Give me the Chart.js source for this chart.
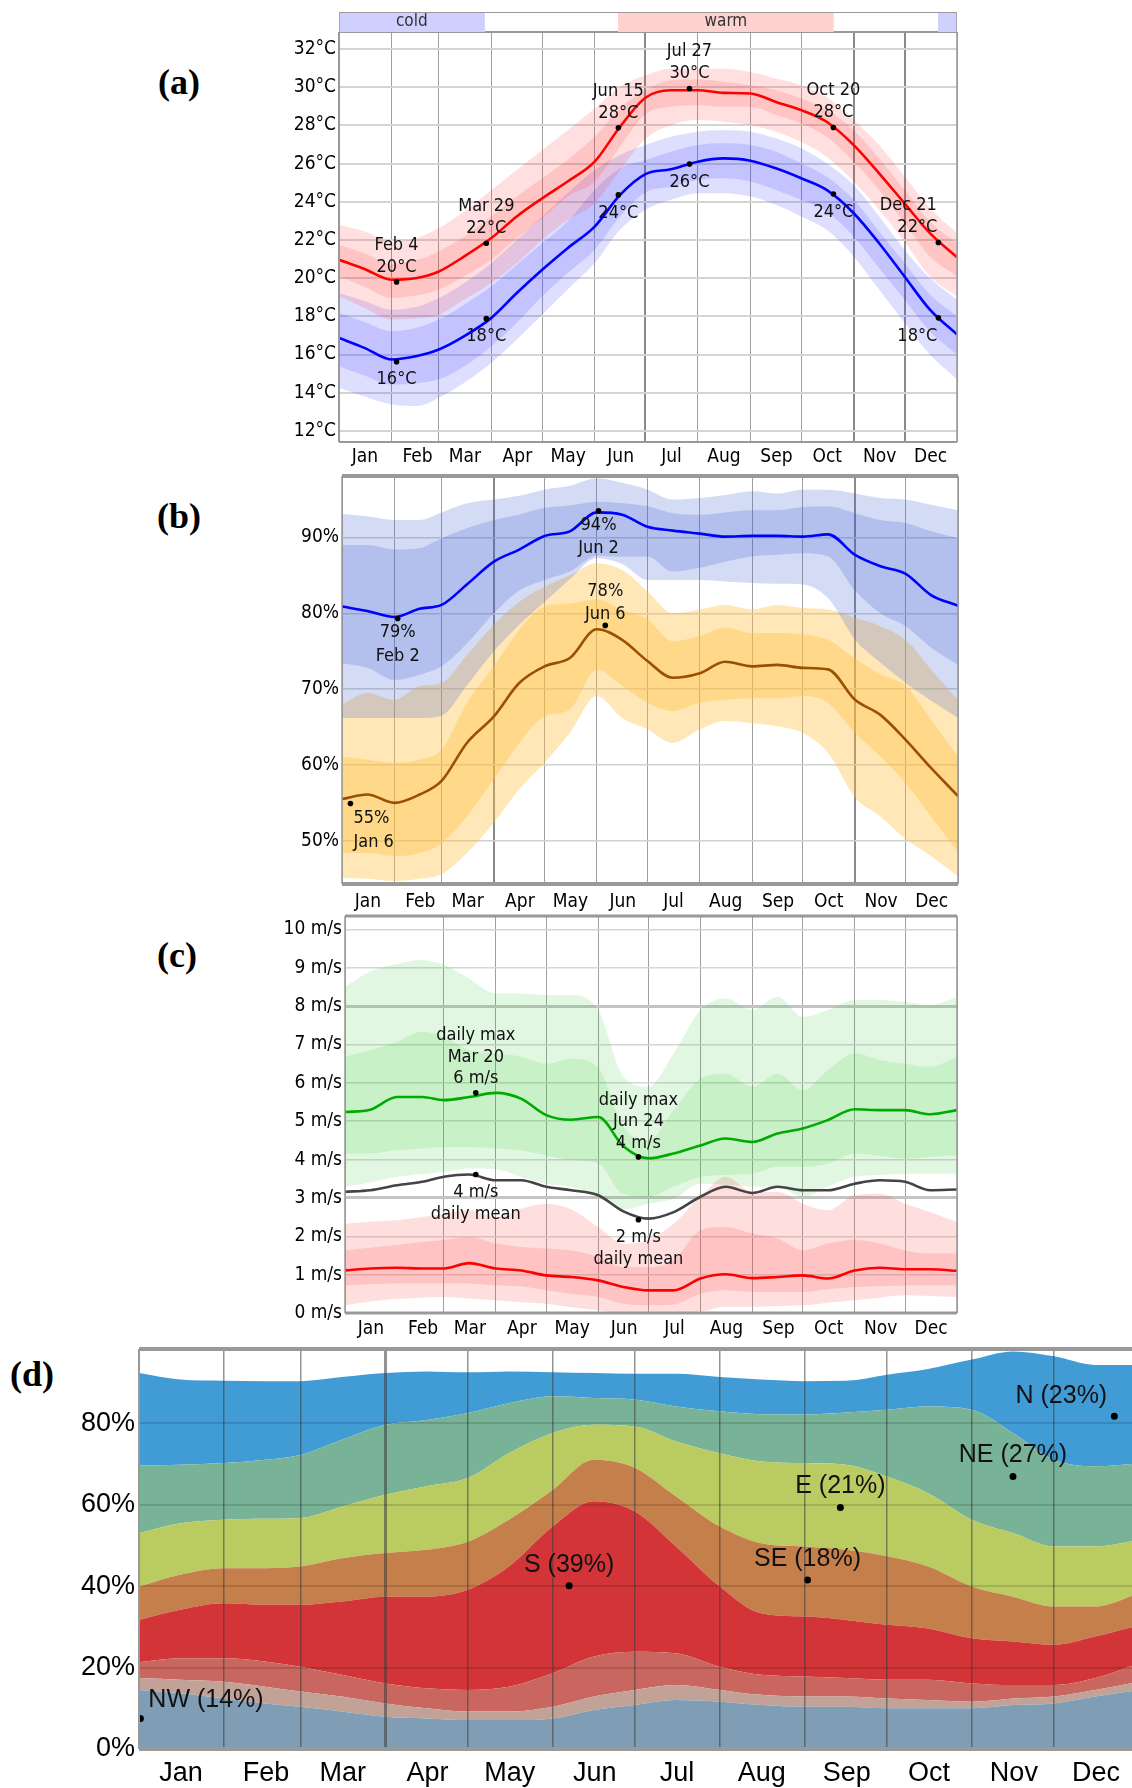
<!DOCTYPE html>
<html lang="en">
<head>
<meta charset="UTF-8">
<title>Temperature, humidity and wind through the year</title>
<style>
  html, body { margin: 0; padding: 0; background: #fff; overflow: hidden; }
  body { width: 1132px; height: 1788px; position: relative; }
  canvas { position: absolute; }
  .tag {
    position: absolute;
    font: bold 36px 'Liberation Serif', 'Times New Roman', serif;
    line-height: 1;
    transform: translate(-50%, -50%);
  }
</style>
<script src="https://cdn.jsdelivr.net/npm/chart.js"></script>
</head>
<body>

<div class="tag" style="left:179px;top:82px">(a)</div>
<div class="tag" style="left:179px;top:516px">(b)</div>
<div class="tag" style="left:177px;top:955px">(c)</div>
<div class="tag" style="left:32px;top:1374px">(d)</div>

<canvas id="temp" width="708" height="462" style="left:259px;top:10px"></canvas>
<canvas id="season" width="618" height="20" style="left:339px;top:12px"></canvas>
<canvas id="humid" width="709" height="460" style="left:259px;top:454px"></canvas>
<canvas id="wind" width="708" height="449" style="left:259px;top:894px"></canvas>
<canvas id="dir" width="1149" height="462" style="left:0px;top:1327px"></canvas>

<script>
// ---- shared x axis (day of year) ----
const DAYS = [0, 15, 31, 46, 59, 74, 90, 105, 120, 135, 151, 166, 181, 196, 212, 227, 243, 258, 273, 288, 304, 319, 334, 349, 365];
const MONTHS = ['Jan', 'Feb', 'Mar', 'Apr', 'May', 'Jun', 'Jul', 'Aug', 'Sep', 'Oct', 'Nov', 'Dec'];
const MONTH_START = [0, 31, 59, 90, 120, 151, 181, 212, 243, 273, 304, 334, 365];

// ---- (a) temperature, deg C ----
const SEASON_NAME = ['cold', 'warm', 'cold'];
const SEASON_LABEL = ['cold', 'warm', ''];
const SEASON_START = [0, 165, 354];
const SEASON_END = [86, 292, 365];

const TEMP_TICKS = [12, 14, 16, 18, 20, 22, 24, 26, 28, 30, 32];
const HIGH = [20.96, 20.48, 19.92, 20.01, 20.35, 21.14, 22.10, 23.23, 24.18, 25.06, 26.10, 27.93, 29.45, 29.84, 29.84, 29.70, 29.67, 29.23, 28.80, 28.19, 26.97, 25.49, 23.92, 22.36, 21.09];
const HIGH_P90 = [22.79, 22.44, 21.90, 22.10, 22.62, 23.49, 24.62, 25.66, 26.71, 27.75, 28.88, 30.02, 30.62, 30.97, 30.97, 30.97, 30.80, 30.45, 30.10, 29.49, 28.28, 26.97, 25.32, 23.66, 22.36];
const HIGH_P75 = [21.75, 21.30, 20.75, 20.95, 21.40, 22.18, 23.23, 24.27, 25.23, 26.19, 27.40, 28.88, 29.84, 30.36, 30.40, 30.28, 30.10, 29.84, 29.41, 28.80, 27.75, 26.27, 24.62, 22.97, 21.83];
const HIGH_P25 = [20.10, 19.55, 18.96, 19.10, 19.40, 20.10, 20.96, 22.10, 23.14, 24.27, 25.06, 26.88, 28.58, 28.97, 29.06, 28.97, 28.97, 28.54, 28.10, 27.40, 26.10, 24.62, 22.88, 21.14, 20.10];
const HIGH_P10 = [19.05, 18.45, 17.83, 17.90, 18.09, 18.88, 19.75, 20.79, 22.01, 23.05, 23.92, 25.66, 27.30, 28.01, 28.28, 28.19, 28.01, 27.67, 27.14, 26.36, 25.06, 23.58, 21.92, 20.09, 19.05];
const LOW = [16.87, 16.35, 15.74, 15.92, 16.26, 16.96, 17.92, 19.22, 20.44, 21.57, 22.70, 24.36, 25.45, 25.70, 26.10, 26.27, 26.15, 25.75, 25.23, 24.62, 23.40, 21.83, 20.09, 18.35, 17.05];
const LOW_P90 = [19.22, 18.80, 18.35, 18.50, 18.96, 19.75, 20.79, 22.01, 23.23, 24.45, 25.66, 26.45, 26.97, 27.40, 27.67, 27.75, 27.67, 27.32, 26.80, 26.01, 24.88, 23.23, 21.49, 20.01, 18.88];
const LOW_P75 = [18.18, 17.70, 17.22, 17.40, 17.83, 18.61, 19.57, 20.70, 21.83, 22.97, 24.62, 25.75, 26.19, 26.62, 26.97, 27.06, 26.97, 26.62, 26.01, 25.32, 24.10, 22.44, 20.79, 19.14, 18.01];
const LOW_P25 = [15.39, 14.90, 14.43, 14.50, 14.70, 15.39, 16.44, 17.66, 19.05, 20.27, 21.49, 23.23, 24.50, 24.79, 25.14, 25.23, 25.06, 24.62, 24.10, 23.49, 22.18, 20.53, 18.88, 17.22, 16.00];
const LOW_P10 = [14.26, 13.80, 13.39, 13.31, 13.74, 14.52, 15.57, 16.79, 18.09, 19.40, 20.79, 22.53, 23.58, 24.10, 24.45, 24.45, 24.27, 23.84, 23.23, 22.53, 21.14, 19.40, 17.66, 16.00, 14.70];

const TEMP_MARK_DAY = [34, 87, 165, 207, 292, 354];
const TEMP_MARK_DATE = ['Feb 4', 'Mar 29', 'Jun 15', 'Jul 27', 'Oct 20', 'Dec 21'];
const HIGH_MARK = [19.80, 21.83, 27.87, 29.93, 27.89, 21.87];
const HIGH_MARK_TEXT = ['20°C', '22°C', '28°C', '30°C', '28°C', '22°C'];
const LOW_MARK = [15.62, 17.88, 24.36, 25.98, 24.41, 17.92];
const LOW_MARK_TEXT = ['16°C', '18°C', '24°C', '26°C', '24°C', '18°C'];

// ---- (b) relative humidity, % ----
const HUM_TICKS = [50, 60, 70, 80, 90];
const HUM_HI = [80.9, 80.3, 79.5, 80.6, 81.1, 83.8, 86.8, 88.4, 90.2, 90.8, 93.3, 93.0, 91.4, 90.9, 90.5, 90.1, 90.2, 90.2, 90.1, 90.4, 87.7, 86.2, 85.2, 82.4, 81.0];
const HUM_HI_P90 = [93.1, 92.8, 92.3, 92.3, 93.3, 94.5, 95.0, 95.5, 96.3, 96.8, 97.8, 97.2, 96.3, 95.0, 95.2, 95.6, 96.1, 95.8, 96.3, 96.3, 95.8, 95.2, 95.0, 94.3, 93.6];
const HUM_HI_P75 = [89.0, 89.0, 88.4, 88.6, 89.9, 91.2, 92.3, 93.0, 93.9, 94.2, 94.7, 94.5, 94.1, 93.2, 93.0, 93.3, 93.6, 93.6, 94.0, 94.1, 93.2, 92.3, 91.9, 90.8, 89.9];
const HUM_HI_P25 = [73.4, 72.8, 71.2, 71.9, 73.0, 76.0, 80.0, 83.0, 84.4, 85.5, 87.6, 87.5, 87.5, 85.5, 86.0, 86.8, 87.5, 87.7, 87.9, 87.5, 83.0, 80.0, 78.3, 75.5, 73.2];
const HUM_HI_P10 = [66.2, 66.2, 66.2, 66.2, 66.5, 70.5, 75.0, 78.5, 81.5, 84.5, 87.3, 86.5, 84.4, 84.4, 84.4, 84.2, 84.0, 83.9, 83.8, 82.0, 76.5, 73.5, 70.8, 68.5, 66.2];
const HUM_LO = [55.5, 56.1, 55.0, 56.1, 57.9, 62.9, 66.4, 70.8, 73.0, 74.1, 77.9, 76.5, 73.7, 71.5, 72.1, 73.6, 73.0, 73.2, 72.8, 72.6, 68.6, 66.6, 63.3, 59.6, 55.9];
const HUM_LO_P90 = [68.0, 69.5, 68.6, 70.4, 70.8, 74.5, 78.5, 81.5, 83.5, 85.0, 86.6, 85.7, 82.9, 80.0, 80.5, 81.1, 80.5, 81.1, 80.7, 80.5, 79.4, 78.3, 76.5, 72.6, 68.6];
const HUM_LO_P75 = [61.1, 60.7, 60.3, 60.7, 62.0, 68.2, 73.0, 77.8, 80.9, 81.3, 81.8, 80.5, 79.2, 76.3, 77.0, 78.1, 77.4, 77.4, 77.2, 76.5, 74.0, 72.0, 70.4, 66.0, 61.1];
const HUM_LO_P25 = [48.4, 48.4, 48.0, 48.4, 49.7, 53.2, 58.1, 62.9, 66.4, 67.3, 72.6, 70.4, 68.2, 67.1, 68.2, 68.6, 68.8, 68.8, 69.1, 68.2, 64.2, 61.1, 57.6, 53.2, 48.6];
const HUM_LO_P10 = [45.1, 45.0, 44.7, 45.0, 45.6, 48.4, 52.4, 56.8, 60.3, 64.2, 69.1, 66.2, 64.7, 62.9, 64.7, 65.8, 65.5, 65.1, 64.2, 61.6, 55.7, 53.2, 50.2, 48.0, 45.3];

const HUM_HI_MARK_DAY = [33, 152];
const HUM_HI_MARK = [79.3, 93.5];
const HUM_HI_MARK_TEXT = ['79%', '94%'];
const HUM_HI_MARK_DATE = ['Feb 2', 'Jun 2'];
const HUM_LO_MARK_DAY = [5, 156];
const HUM_LO_MARK = [54.9, 78.4];
const HUM_LO_MARK_TEXT = ['55%', '78%'];
const HUM_LO_MARK_DATE = ['Jan 6', 'Jun 6'];

// ---- (c) wind speed, m/s ----
const WIND_TICKS = [0, 1, 2, 3, 4, 5, 6, 7, 8, 9, 10];
const WMAX = [5.24, 5.30, 5.63, 5.63, 5.55, 5.63, 5.74, 5.59, 5.16, 5.04, 5.11, 4.35, 4.03, 4.16, 4.37, 4.55, 4.46, 4.68, 4.81, 5.03, 5.31, 5.29, 5.29, 5.18, 5.29];
const WMAX_P90 = [8.50, 8.90, 9.10, 9.20, 9.07, 8.72, 8.33, 8.33, 8.29, 8.29, 7.90, 6.16, 5.90, 6.77, 7.90, 8.20, 7.90, 8.24, 7.72, 7.90, 8.16, 8.16, 8.11, 8.03, 8.24];
const WMAX_P75 = [6.68, 6.85, 7.07, 7.33, 7.20, 6.85, 6.77, 6.68, 6.50, 6.63, 6.40, 4.85, 4.50, 5.29, 6.11, 6.24, 5.90, 6.24, 5.81, 6.33, 6.77, 6.59, 6.50, 6.42, 6.68];
const WMAX_P25 = [4.16, 4.16, 4.24, 4.29, 4.33, 4.33, 4.29, 4.24, 4.11, 3.98, 3.90, 3.10, 3.03, 3.29, 3.55, 3.60, 3.63, 3.81, 3.81, 3.90, 4.16, 4.10, 4.03, 4.07, 4.11];
const WMAX_P10 = [3.29, 3.40, 3.55, 3.62, 3.68, 3.77, 3.75, 3.55, 3.37, 3.29, 3.03, 2.70, 2.85, 2.98, 3.37, 3.35, 3.30, 3.29, 3.03, 3.30, 3.55, 3.60, 3.63, 3.63, 3.63];
const WMEAN = [3.16, 3.20, 3.33, 3.42, 3.55, 3.61, 3.46, 3.46, 3.29, 3.20, 3.07, 2.65, 2.46, 2.63, 3.03, 3.29, 3.13, 3.29, 3.20, 3.20, 3.37, 3.46, 3.42, 3.20, 3.22];
const WMIN = [1.11, 1.16, 1.18, 1.16, 1.16, 1.30, 1.16, 1.11, 0.98, 0.94, 0.85, 0.68, 0.59, 0.59, 0.90, 1.01, 0.91, 0.94, 0.98, 0.90, 1.11, 1.18, 1.14, 1.14, 1.10];
const WMIN_P90 = [2.33, 2.38, 2.42, 2.50, 2.59, 2.68, 2.50, 2.72, 2.85, 2.70, 2.24, 1.81, 1.90, 2.33, 3.03, 3.55, 3.16, 3.16, 2.85, 2.68, 3.07, 3.11, 2.85, 2.63, 2.37];
const WMIN_P75 = [1.63, 1.70, 1.77, 1.85, 1.90, 1.98, 1.81, 1.72, 1.68, 1.63, 1.46, 1.20, 1.20, 1.37, 2.16, 2.24, 2.07, 1.94, 1.63, 1.81, 1.90, 1.81, 1.63, 1.55, 1.55];
const WMIN_P25 = [0.72, 0.75, 0.77, 0.77, 0.77, 0.77, 0.72, 0.70, 0.59, 0.50, 0.42, 0.24, 0.20, 0.22, 0.50, 0.59, 0.55, 0.55, 0.55, 0.62, 0.68, 0.70, 0.72, 0.72, 0.72];
const WMIN_P10 = [0.20, 0.30, 0.37, 0.40, 0.42, 0.38, 0.33, 0.28, 0.24, 0.15, 0.07, 0.00, 0.00, 0.00, 0.03, 0.16, 0.16, 0.18, 0.20, 0.27, 0.33, 0.40, 0.46, 0.44, 0.42];

const WIND_MARK_DAY = [78, 175];
const WIND_MARK_DATE = ['Mar 20', 'Jun 24'];
const WMAX_MARK = [5.74, 4.07];
const WMAX_MARK_TEXT = ['6 m/s', '4 m/s'];
const WMEAN_MARK = [3.61, 2.43];
const WMEAN_MARK_TEXT = ['4 m/s', '2 m/s'];

// ---- (d) wind direction, % of time (stacked from the bottom) ----
const DIR_TICKS = [0, 20, 40, 60, 80];
const DIR_NAME = ['NW', 'W', 'SW', 'S', 'SE', 'E', 'NE', 'N'];
const DIR_NW = [14.5, 13.7, 12.4, 11.2, 10.4, 9.2, 7.9, 7.5, 7.1, 7.1, 7.5, 9.6, 10.8, 12.0, 11.6, 10.8, 10.4, 10.4, 10.0, 10.0, 10.0, 10.8, 11.2, 12.9, 14.5];
const DIR_W = [2.9, 3.3, 4.1, 4.1, 3.7, 3.7, 3.3, 2.5, 2.1, 2.1, 2.9, 3.3, 3.7, 3.7, 2.9, 2.5, 2.5, 2.5, 2.4, 2.0, 1.6, 1.6, 1.7, 1.6, 2.0];
const DIR_SW = [3.9, 5.3, 5.8, 6.2, 6.1, 5.3, 4.9, 4.9, 5.3, 6.1, 8.2, 9.8, 9.4, 7.8, 5.7, 4.9, 4.9, 4.5, 4.6, 5.0, 4.5, 3.3, 2.8, 2.9, 4.5];
const DIR_S = [10.4, 11.9, 13.5, 13.9, 15.2, 18.0, 21.3, 22.5, 24.6, 29.5, 36.0, 38.1, 34.4, 26.2, 19.7, 15.1, 14.7, 14.3, 13.5, 12.6, 11.1, 10.7, 9.9, 10.2, 9.4];
const DIR_SE = [8.2, 8.6, 8.6, 9.0, 9.4, 10.6, 10.7, 11.5, 11.8, 11.5, 9.0, 10.2, 10.7, 12.3, 14.7, 17.2, 17.2, 17.2, 16.8, 15.2, 12.7, 11.0, 9.4, 7.4, 7.8];
const DIR_E = [13.1, 12.6, 11.9, 12.1, 11.9, 12.7, 14.3, 15.6, 15.6, 16.3, 14.0, 8.6, 10.2, 13.5, 18.0, 20.1, 20.5, 20.9, 19.6, 18.0, 16.4, 15.6, 14.7, 14.7, 13.1];
const DIR_NE = [16.6, 14.4, 13.9, 14.5, 15.5, 16.4, 17.2, 16.3, 16.0, 12.3, 9.0, 6.6, 6.6, 8.6, 10.3, 11.6, 11.9, 12.8, 16.4, 21.3, 27.0, 24.6, 21.3, 19.7, 18.8];
const DIR_N = [22.7, 20.9, 20.2, 19.3, 18.1, 15.4, 12.7, 11.9, 10.0, 7.8, 5.9, 6.1, 6.3, 8.0, 8.4, 8.5, 8.2, 7.8, 8.6, 9.2, 12.3, 20.0, 25.4, 24.9, 24.2];

const DIR_NOTE = ['NW (14%)', 'S (39%)', 'SE (18%)', 'E (21%)', 'NE (27%)', 'N (23%)'];
const DIR_NOTE_DAY = [0.5, 157, 244, 256, 319, 356];
const DIR_NOTE_VAL = [7.5, 40.1, 41.5, 59.3, 66.9, 81.7];

// ---- styling ----
const NARROW = "'Liberation Sans Narrow', 'DejaVu Sans Condensed', 'Liberation Sans', sans-serif";
const WIDE = "'Liberation Sans', Arial, sans-serif";

Chart.defaults.font.family = NARROW;
Chart.defaults.font.size = 19;
Chart.defaults.color = '#111';
Chart.defaults.animation = false;
Chart.defaults.responsive = false;
Chart.defaults.plugins.legend.display = false;
Chart.defaults.plugins.tooltip.enabled = false;

function pts(xs, ys) {
    return xs.map((d, i) => ({ x: d, y: ys[i] }));
}

function line(vals, color, width) {
    return { data: pts(DAYS, vals), borderColor: color, borderWidth: width, pointRadius: 0,
             fill: false, cubicInterpolationMode: 'monotone' };
}

// edge of a band; if a colour is given it fills down to the next dataset
function edge(vals, color) {
    return { data: pts(DAYS, vals), borderWidth: 0, pointRadius: 0, borderColor: 'transparent',
             fill: color ? '+1' : false, backgroundColor: color || 'transparent',
             cubicInterpolationMode: 'monotone' };
}

function dots(days, vals, r) {
    return { data: pts(days, vals), showLine: false, pointRadius: r || 2.8,
             pointBackgroundColor: '#000', pointBorderWidth: 0 };
}

function monthAxis(o) {
    return {
        type: 'linear', min: 0, max: 365,
        afterBuildTicks: a => { a.ticks = MONTH_START.map(v => ({ value: v })); },
        afterFit: a => { a.height = o.height; },
        border: { display: false },
        grid: { drawTicks: false, color: o.gridColor, lineWidth: o.gridWidth, z: o.z || -1 },
        ticks: { autoSkip: false, maxRotation: 0, labelOffset: o.labelOffset, padding: o.pad,
                 font: o.font, color: '#000', callback: (v, i) => MONTHS[i] || '' }
    };
}

function valueAxis(o) {
    return {
        min: o.min, max: o.max, stacked: !!o.stacked,
        afterBuildTicks: a => { a.ticks = o.ticks.map(v => ({ value: v })); },
        afterFit: a => { a.width = o.width; },
        border: { display: false },
        grid: { drawTicks: false, color: o.gridColor, lineWidth: o.gridWidth, z: o.z || -1 },
        ticks: { padding: o.pad, font: o.font, color: '#000', callback: v => v + o.unit }
    };
}

// plot frame, widths are [top, right, bottom, left]
function framePlugin(color, widths) {
    return {
        id: 'frame',
        afterDraw(chart) {
            const { ctx, chartArea: a } = chart;
            const sides = [[a.left, a.top, a.right, a.top], [a.right, a.top, a.right, a.bottom],
                           [a.left, a.bottom, a.right, a.bottom], [a.left, a.top, a.left, a.bottom]];
            ctx.save();
            ctx.strokeStyle = color;
            sides.forEach((s, i) => {
                if (!widths[i]) return;
                ctx.lineWidth = widths[i];
                ctx.beginPath();
                ctx.moveTo(s[0], s[1]);
                ctx.lineTo(s[2], s[3]);
                ctx.stroke();
            });
            ctx.restore();
        }
    };
}

// text next to the marked points; dx may be one number or one per line
function notesPlugin(notes, font) {
    return {
        id: 'notes',
        afterDraw(chart) {
            const { ctx, scales: { x, y } } = chart;
            ctx.save();
            ctx.font = font;
            ctx.fillStyle = '#111';
            ctx.textBaseline = 'middle';
            notes.forEach(n => {
                const px = x.getPixelForValue(n.x);
                const py = y.getPixelForValue(n.y);
                ctx.textAlign = n.align || 'center';
                n.lines.forEach((t, i) => {
                    const dx = Array.isArray(n.dx) ? n.dx[i] : (n.dx || 0);
                    ctx.fillText(t, px + dx, py + n.dy + i * n.gap);
                });
            });
            ctx.restore();
        }
    };
}

const NOTE_FONT = '18px ' + NARROW;
const PAD = { top: 22, right: 10, bottom: 0, left: 0 };
const vGrid = (dark, hide) => ({
    color: c => hide.includes(c.index) ? 'transparent' : (dark.includes(c.index) ? '#8a8a8a' : '#a0a0a0'),
    width: c => dark.includes(c.index) ? 2 : 1
});

// ---- (a) season strip ----
new Chart(document.getElementById('season'), {
    type: 'bar',
    data: {
        labels: [''],
        datasets: SEASON_NAME.map((n, i) => ({
            data: [[SEASON_START[i], SEASON_END[i]]],
            backgroundColor: n === 'cold' ? '#d0d0ff' : '#ffd2d2',
            borderWidth: 0, barPercentage: 1, categoryPercentage: 1, grouped: false
        }))
    },
    options: {
        indexAxis: 'y',
        layout: { padding: 0 },
        scales: { x: { type: 'linear', min: 0, max: 365, display: false }, y: { display: false } }
    },
    plugins: [{
        id: 'seasonText',
        afterDraw(chart) {
            const { ctx, chartArea: a, scales: { x } } = chart;
            ctx.save();
            ctx.font = '17px ' + NARROW;
            ctx.fillStyle = '#333';
            ctx.textAlign = 'center';
            ctx.textBaseline = 'middle';
            SEASON_LABEL.forEach((t, i) => {
                if (t) ctx.fillText(t, x.getPixelForValue((SEASON_START[i] + SEASON_END[i]) / 2), (a.top + a.bottom) / 2);
            });
            ctx.restore();
        }
    }, framePlugin('#999', [2, 1.5, 0, 1.5])]
});

// ---- (a) temperature ----
const gA = vGrid([6, 10, 11], []);
const tempNotes = [];
TEMP_MARK_DAY.forEach((d, i) => {
    const last = i === TEMP_MARK_DAY.length - 1;   // keep the December text inside the plot
    tempNotes.push({ x: d, y: HIGH_MARK[i], lines: [TEMP_MARK_DATE[i], HIGH_MARK_TEXT[i]], dy: -37, gap: 22,
                     dx: last ? [-30, -21] : 0 });
    tempNotes.push({ x: d, y: LOW_MARK[i], lines: [LOW_MARK_TEXT[i]], dy: 18, gap: 22, dx: last ? -21 : 0 });
});
const RED_BAND = 'rgba(255, 40, 40, 0.15)';
const BLUE_BAND = 'rgba(60, 60, 255, 0.17)';

new Chart(document.getElementById('temp'), {
    type: 'line',
    data: {
        datasets: [
            dots(TEMP_MARK_DAY, HIGH_MARK),
            dots(TEMP_MARK_DAY, LOW_MARK),
            line(HIGH, '#ff0000', 2.6),
            line(LOW, '#0000ff', 2.6),
            edge(HIGH_P90, RED_BAND), edge(HIGH_P10),
            edge(HIGH_P75, RED_BAND), edge(HIGH_P25),
            edge(LOW_P90, BLUE_BAND), edge(LOW_P10),
            edge(LOW_P75, BLUE_BAND), edge(LOW_P25)
        ]
    },
    options: {
        layout: { padding: PAD },
        scales: {
            x: monthAxis({ height: 30, labelOffset: 26, pad: 4, gridColor: gA.color, gridWidth: gA.width }),
            y: valueAxis({ min: 11.42, max: 32.89, ticks: TEMP_TICKS, unit: '°C', width: 80, pad: 3,
                           gridColor: '#d4d4d4', gridWidth: 2 })
        }
    },
    plugins: [framePlugin('#999', [2, 1.5, 2, 2]), notesPlugin(tempNotes, NOTE_FONT)]
});

// ---- (b) humidity ----
const gB = vGrid([3, 10], []);
const humNotes = [];
HUM_HI_MARK_DAY.forEach((d, i) => {
    humNotes.push({ x: d, y: HUM_HI_MARK[i], lines: [HUM_HI_MARK_TEXT[i], HUM_HI_MARK_DATE[i]], dy: 14, gap: 23.5 });
});
humNotes.push({ x: HUM_LO_MARK_DAY[0], y: HUM_LO_MARK[0], lines: [HUM_LO_MARK_TEXT[0], HUM_LO_MARK_DATE[0]], dy: 15, gap: 23.5, align: 'left', dx: 3 });
humNotes.push({ x: HUM_LO_MARK_DAY[1], y: HUM_LO_MARK[1], lines: [HUM_LO_MARK_TEXT[1], HUM_LO_MARK_DATE[1]], dy: -34, gap: 22.5 });
const HB_BAND = 'rgba(60, 90, 210, 0.22)';
const HO_BAND = 'rgba(255, 190, 60, 0.37)';

new Chart(document.getElementById('humid'), {
    type: 'line',
    data: {
        datasets: [
            dots(HUM_HI_MARK_DAY, HUM_HI_MARK),
            dots(HUM_LO_MARK_DAY, HUM_LO_MARK),
            line(HUM_HI, '#0000ff', 2.6),
            line(HUM_LO, '#995000', 2.6),
            edge(HUM_HI_P90, HB_BAND), edge(HUM_HI_P10),
            edge(HUM_HI_P75, HB_BAND), edge(HUM_HI_P25),
            edge(HUM_LO_P90, HO_BAND), edge(HUM_LO_P10),
            edge(HUM_LO_P75, HO_BAND), edge(HUM_LO_P25)
        ]
    },
    options: {
        layout: { padding: PAD },
        scales: {
            x: monthAxis({ height: 30, labelOffset: 26, pad: 7, gridColor: gB.color, gridWidth: gB.width }),
            y: valueAxis({ min: 44.3, max: 98.1, ticks: HUM_TICKS, unit: '%', width: 83, pad: 3,
                           gridColor: '#d0d0d0', gridWidth: 1.5 })
        }
    },
    plugins: [framePlugin('#999', [4, 1.5, 4, 1.5]), notesPlugin(humNotes, NOTE_FONT)]
});

// ---- (c) wind speed ----
const gC = vGrid([], [1]);
const windNotes = [];
WIND_MARK_DAY.forEach((d, i) => {
    windNotes.push({ x: d, y: WMAX_MARK[i], lines: ['daily max', WIND_MARK_DATE[i], WMAX_MARK_TEXT[i]], dy: -57, gap: 21.5 });
    windNotes.push({ x: d, y: WMEAN_MARK[i], lines: [WMEAN_MARK_TEXT[i], 'daily mean'], dy: 18, gap: 21.5 });
});
const GREEN_BAND = 'rgba(40, 200, 40, 0.14)';
const PINK_BAND = 'rgba(255, 60, 60, 0.17)';

new Chart(document.getElementById('wind'), {
    type: 'line',
    data: {
        datasets: [
            dots(WIND_MARK_DAY, WMAX_MARK),
            dots(WIND_MARK_DAY, WMEAN_MARK),
            line(WMAX, '#00aa00', 2.6),
            line(WMEAN, '#444444', 2.6),
            line(WMIN, '#ff0000', 2.6),
            edge(WMAX_P90, GREEN_BAND), edge(WMAX_P10),
            edge(WMAX_P75, GREEN_BAND), edge(WMAX_P25),
            edge(WMIN_P90, PINK_BAND), edge(WMIN_P10),
            edge(WMIN_P75, PINK_BAND), edge(WMIN_P25)
        ]
    },
    options: {
        layout: { padding: PAD },
        scales: {
            x: monthAxis({ height: 30, labelOffset: 26, pad: 5, gridColor: gC.color, gridWidth: gC.width }),
            y: valueAxis({ min: 0, max: 10.35, ticks: WIND_TICKS, unit: ' m/s', width: 86, pad: 3,
                           gridColor: c => [3, 8].includes(c.tick.value) ? '#c4c4c4' : '#d6d6d6',
                           gridWidth: c => [3, 8].includes(c.tick.value) ? 3 : 1.5 })
        }
    },
    plugins: [framePlugin('#999', [3, 1.5, 3, 1.5]), notesPlugin(windNotes, NOTE_FONT)]
});

// ---- (d) wind direction ----
const DIR_COLORS = ['#7f9db4', '#c2a296', '#c9665f', '#d23438', '#c47f4b', '#bacb62', '#79b397', '#419cd6'];
const DIR_SERIES = [DIR_NW, DIR_W, DIR_SW, DIR_S, DIR_SE, DIR_E, DIR_NE, DIR_N];
const dirNotes = DIR_NOTE.map((t, i) => {
    if (i === 0) return { x: DIR_NOTE_DAY[i], y: DIR_NOTE_VAL[i], lines: [t], dy: -18, gap: 0, align: 'left', dx: 8 };
    if (i === DIR_NOTE.length - 1) return { x: DIR_NOTE_DAY[i], y: DIR_NOTE_VAL[i], lines: [t], dy: -20, gap: 0, dx: -53 };
    return { x: DIR_NOTE_DAY[i], y: DIR_NOTE_VAL[i], lines: [t], dy: -21, gap: 0 };
});
const dirDots = Object.assign(dots(DIR_NOTE_DAY, DIR_NOTE_VAL, 3.5), { stack: 'notes' });

new Chart(document.getElementById('dir'), {
    type: 'line',
    data: {
        datasets: [dirDots].concat(DIR_SERIES.map((vals, i) => ({
            label: DIR_NAME[i],
            data: pts(DAYS, vals),
            stack: 'dir',
            backgroundColor: DIR_COLORS[i],
            borderWidth: 0, borderColor: 'transparent', pointRadius: 0,
            fill: i === 0 ? 'origin' : '-1',
            cubicInterpolationMode: 'monotone'
        })))
    },
    options: {
        layout: { padding: PAD },
        scales: {
            x: monthAxis({ height: 40, labelOffset: 42, pad: 8, z: 1, font: { family: WIDE, size: 27 },
                           gridColor: 'rgba(60, 60, 60, 0.55)', gridWidth: c => c.index === 3 ? 3 : 1.5 }),
            y: valueAxis({ min: 0, max: 98.2, stacked: true, ticks: DIR_TICKS, unit: '%', width: 139, pad: 4, z: 1,
                           font: { family: WIDE, size: 27 }, gridColor: 'rgba(0, 0, 0, 0.13)', gridWidth: 2 })
        }
    },
    plugins: [framePlugin('#999', [4, 0, 4, 2]), notesPlugin(dirNotes, '25px ' + WIDE)]
});
</script>
</body>
</html>
